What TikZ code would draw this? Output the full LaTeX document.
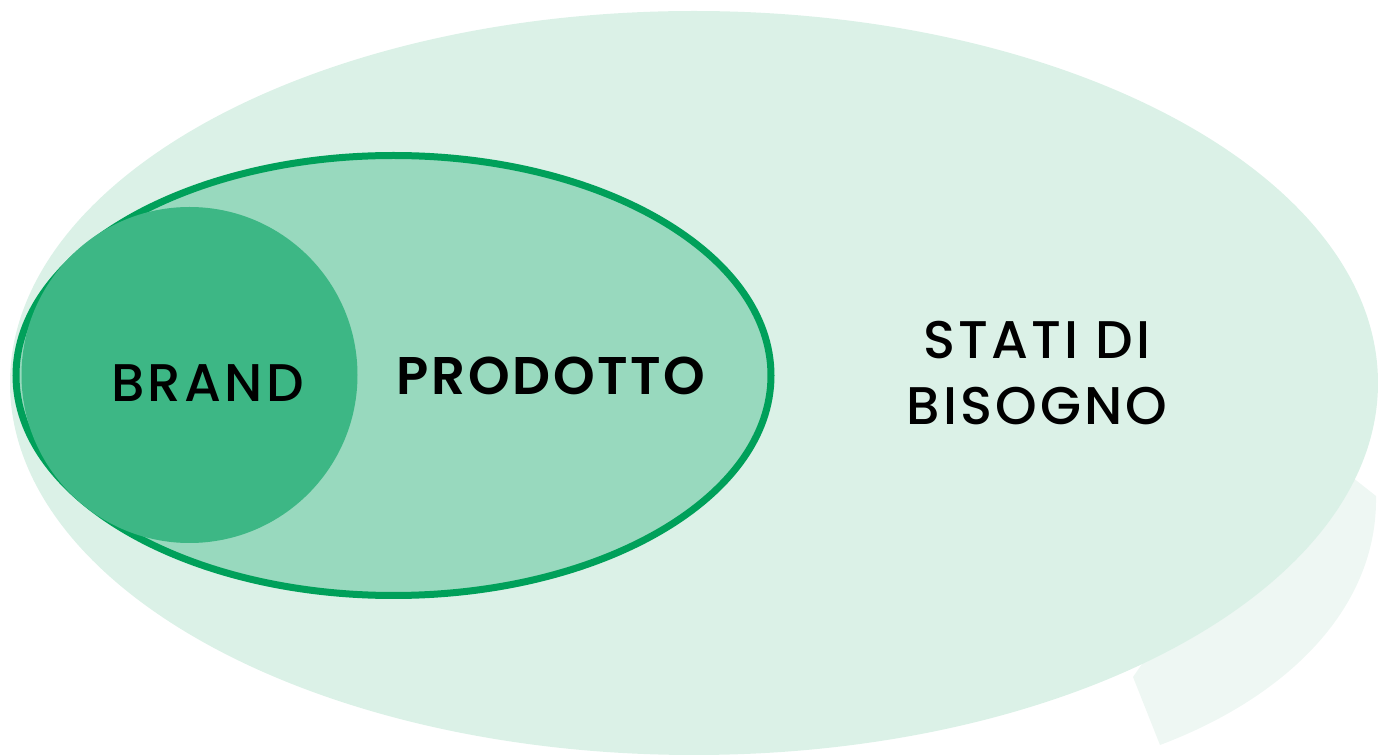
\documentclass[tikz,border=0pt]{standalone}
\usepackage{fontspec}
\setmainfont{Poppins}
\newfontfamily\medfont[LetterSpace=6]{Poppins Medium}
\newfontfamily\boldfont[LetterSpace=5]{Poppins SemiBold}
\usepackage{tikz}
\usetikzlibrary{shapes.geometric}
\definecolor{needbg}{HTML}{DBF1E7}
\definecolor{prodbg}{HTML}{98D9BE}
\definecolor{prodline}{HTML}{00A05A}
\definecolor{brandbg}{HTML}{3DB785}
\definecolor{shadowbg}{HTML}{EEF7F3}

\begin{document}
\begin{tikzpicture}[x=0.5pt, y=0.5pt,
      blob/.style={ellipse, inner sep=0pt, draw=none},
      lbl/.style={font=\medfont\fontsize{26.5}{33}\selectfont, align=center, inner sep=0pt}]
    \useasboundingbox (0,0) rectangle (1378,756);
    % faint shadow under the outer ellipse
    \fill[shadowbg] (1133,79) -- (1160,11) .. controls (1290,60) and (1378,150) .. (1376,260) -- (1300,320) -- cycle;
    \node[blob, fill=needbg, minimum width=684pt, minimum height=372pt] (need) at (694,373) {};
    \node[blob, fill=prodbg, draw=prodline, line width=3.5pt, minimum width=377.5pt, minimum height=220pt] (prod) at (393.5,380.5) {};
    \node[circle, inner sep=0pt, fill=brandbg, minimum size=168pt] (brand) at (189.5,381) {};
    \node[lbl] (brandtxt) at (207.5,372.5) {BRAND};
    \node[lbl, font=\boldfont\fontsize{26.5}{33}\selectfont] (prodtxt) at (551,380.5) {PRODOTTO};
    \node[lbl] (needtxt) at (1037,383) {STATI DI\\BISOGNO};
  \end{tikzpicture}
\end{document}
